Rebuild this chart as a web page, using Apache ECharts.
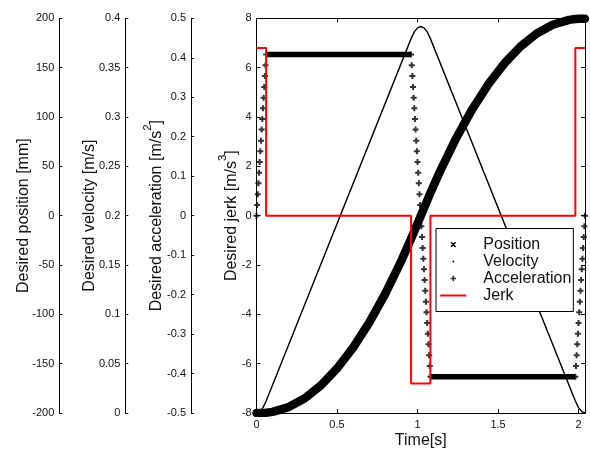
<!DOCTYPE html>
<html><head><meta charset="utf-8">
<script src="https://cdn.jsdelivr.net/npm/echarts@6/dist/echarts.min.js"></script>
<style>html,body{margin:0;padding:0;background:#fff}#c{width:590px;height:449px}</style>
</head><body><div id="c"></div>
<script>
// ---- data ----
const timeTicks = [0, 0.5, 1, 1.5, 2];
const seriesNames = ['Position', 'Velocity', 'Acceleration', 'Jerk'];

const posTime = [0, 0.03, 0.06, 0.1, 0.2, 0.3, 0.4, 0.5, 0.6, 0.7, 0.8, 0.9, 0.96, 1.02, 1.08, 1.14, 1.24, 1.34, 1.44, 1.54, 1.64, 1.74, 1.84, 1.94, 1.98, 2.01, 2.04];
const posMm   = [-200, -200, -199.8, -198.9, -194.0, -185.1, -172.0, -154.9, -133.7, -108.4, -79.0, -45.5, -23.5, -0.2, 23.0, 45.0, 78.5, 107.9, 133.2, 154.4, 171.5, 184.6, 193.5, 198.4, 199.3, 199.5, 199.5];

const velTime = [0, 0.02, 0.04, 0.06, 0.96, 0.98, 1.0, 1.02, 1.04, 1.06, 1.08, 1.98, 2.0, 2.02, 2.04];
const velMs   = [0, 0.0014, 0.0054, 0.0122, 0.3794, 0.3862, 0.3903, 0.3917, 0.3903, 0.3862, 0.3794, 0.0122, 0.0054, 0.0014, 0];

// acceleration samples visible as separate markers on the ramps
const accTime = [0, 0.004, 0.008, 0.012, 0.016, 0.02, 0.024, 0.028, 0.032, 0.036, 0.04, 0.044, 0.048, 0.052, 0.056, 0.06,
  0.96, 0.964, 0.968, 0.972, 0.976, 0.98, 0.984, 0.988, 0.992, 0.996, 1, 1.004, 1.008, 1.012, 1.016, 1.02, 1.024, 1.028, 1.032, 1.036, 1.04, 1.044, 1.048, 1.052, 1.056, 1.06, 1.064, 1.068, 1.072, 1.076, 1.08,
  1.98, 1.984, 1.988, 1.992, 1.996, 2, 2.004, 2.008, 2.012, 2.016, 2.02, 2.024, 2.028, 2.032, 2.036, 2.04];
const accVal = [0, 0.027, 0.054, 0.082, 0.109, 0.136, 0.163, 0.19, 0.218, 0.245, 0.272, 0.299, 0.326, 0.354, 0.381, 0.408,
  0.408, 0.381, 0.354, 0.326, 0.299, 0.272, 0.245, 0.218, 0.19, 0.163, 0.136, 0.109, 0.082, 0.054, 0.027, 0, -0.027, -0.054, -0.082, -0.109, -0.136, -0.163, -0.19, -0.218, -0.245, -0.272, -0.299, -0.326, -0.354, -0.381, -0.408,
  -0.408, -0.381, -0.354, -0.326, -0.299, -0.272, -0.245, -0.218, -0.19, -0.163, -0.136, -0.109, -0.082, -0.054, -0.027, 0];
// dense samples on the plateaus merge into solid bars
const accPlateauUpTime = [0.06, 0.96];
const accPlateauUpVal = [0.408, 0.408];
const accPlateauDownTime = [1.08, 1.98];
const accPlateauDownVal = [-0.408, -0.408];

const jerkTime = [0, 0.06, 0.06, 0.96, 0.96, 1.08, 1.08, 1.98, 1.98, 2.04];
const jerkVal  = [6.8, 6.8, 0, 0, -6.8, -6.8, 0, 0, 6.8, 6.8];

const posTicks = {min: -200, max: 200, interval: 50};
const velTicks = {min: 0, max: 0.4, interval: 0.05};
const accTicks = {min: -0.5, max: 0.5, interval: 0.1};
const jerkTicks = {min: -8, max: 8, interval: 2};

// ---- chart ----
const FONT = 'Liberation Sans, Arial, Helvetica, sans-serif';
const TXT = '#111';
const zip = (a, b) => a.map((v, i) => [v, b[i]]);

const rich = {
  n: {fontSize: 16, fontFamily: FONT, color: TXT, lineHeight: 16, verticalAlign: 'bottom'},
  s: {fontSize: 11.5, fontFamily: FONT, color: TXT, lineHeight: 11, padding: [0, 0, 11, 0], verticalAlign: 'bottom'}
};

function yAx(range, offset, name, gap, tickLen) {
  return Object.assign({
    type: 'value', position: 'left', offset: offset,
    axisLine: {show: true, onZero: false, lineStyle: {color: '#000', width: 1}},
    axisTick: {show: true, inside: true, length: tickLen, lineStyle: {color: '#000', width: 1}},
    axisLabel: {fontSize: 11, color: TXT, margin: 5, fontFamily: FONT},
    splitLine: {show: false},
    name: name, nameLocation: 'middle', nameGap: gap, nameRotate: 90,
    nameMoveOverlap: false,
    nameTextStyle: {rich: rich}
  }, range);
}

const BB = 'M0,0M26,8';
const iconX = 'path://' + BB + 'M10.5,1.5L11.5,1.5L15.5,5.5L15.5,6.5L14.5,6.5L10.5,2.5ZM15.5,1.5L15.5,2.5L11.5,6.5L10.5,6.5L10.5,5.5L14.5,1.5Z';
const iconDot = 'path://' + BB + 'M12.2,3.2H13.8V4.8H12.2Z';
const iconPlus = 'path://' + BB + 'M12.2,1.3H13.8V3.2H15.7V4.8H13.8V6.7H12.2V4.8H10.3V3.2H12.2Z';
const iconLine = 'path://' + BB + 'M0,3H26V5H0Z';
const plusSymbol = 'path://M2,0H4V2H6V4H4V6H2V4H0V2H2Z';

const option = {
  animation: false,
  backgroundColor: '#fff',
  textStyle: {fontFamily: FONT},
  grid: {left: 256.5, right: 5, top: 18.3, bottom: 36, containLabel: false, outerBoundsMode: 'none'},
  legend: {
    orient: 'vertical', left: 436, top: 228.5,
    padding: [7.5, 2, 7.5, 4.3], itemGap: 0, itemWidth: 26, itemHeight: 8,
    backgroundColor: '#fff', borderColor: '#000', borderWidth: 1, borderRadius: 0,
    selectedMode: false,
    textStyle: {fontSize: 16, lineHeight: 17, color: TXT, fontFamily: FONT, padding: [0, 0, 0, 12]},
    itemStyle: {borderWidth: 0},
    data: [
      {name: seriesNames[0], icon: iconX, itemStyle: {color: '#000', borderWidth: 0}},
      {name: seriesNames[1], icon: iconDot, itemStyle: {color: '#000', borderWidth: 0}},
      {name: seriesNames[2], icon: iconPlus, itemStyle: {color: '#000', borderWidth: 0}},
      {name: seriesNames[3], icon: iconLine, itemStyle: {color: '#ff0000', borderWidth: 0}}
    ]
  },
  xAxis: [
    {
      type: 'value', position: 'bottom', min: 0, max: 2.04, interval: 0.5,
      axisLine: {show: true, onZero: false, lineStyle: {color: '#000', width: 1}},
      axisTick: {show: true, inside: true, length: 4, lineStyle: {color: '#000'}},
      axisLabel: {fontSize: 11, color: TXT, margin: 6, fontFamily: FONT,
        formatter: v => timeTicks.some(t => Math.abs(t - v) < 1e-9) ? String(v) : ''},
      splitLine: {show: false},
      name: 'Time[s]', nameLocation: 'middle', nameGap: 20, nameMoveOverlap: false,
      nameTextStyle: {fontSize: 16, color: TXT, fontFamily: FONT}
    },
    {
      type: 'value', position: 'top', min: 0, max: 2.04, interval: 0.5,
      axisLine: {show: true, onZero: false, lineStyle: {color: '#000', width: 1}},
      axisTick: {show: true, inside: true, length: 4, lineStyle: {color: '#000'}},
      axisLabel: {show: false}, splitLine: {show: false}
    }
  ],
  yAxis: [
    yAx(posTicks, 197.2, '{n|Desired position [mm]}', 28, 3),
    yAx(velTicks, 131.2, '{n|Desired velocity [m/s]}', 28, 3),
    yAx(accTicks, 65.5, '{n|Desired acceleration [m/s}{s|2}{n|]}', 26, 3),
    yAx(jerkTicks, 0, '{n|Desired jerk [m/s}{s|3}{n|]}', 17, 4),
    Object.assign({
      type: 'value', position: 'right',
      axisLine: {show: true, onZero: false, lineStyle: {color: '#000', width: 1}},
      axisTick: {show: true, inside: true, length: 4, lineStyle: {color: '#000'}},
      axisLabel: {show: false}, splitLine: {show: false}
    }, jerkTicks)
  ],
  series: [
    {
      name: seriesNames[0], type: 'line', xAxisIndex: 0, yAxisIndex: 0,
      data: zip(posTime, posMm), showSymbol: false, symbol: 'none',
      lineStyle: {color: '#000', width: 8.5, cap: 'round', join: 'round'},
      itemStyle: {color: '#000'}
    },
    {
      name: seriesNames[1], type: 'line', xAxisIndex: 0, yAxisIndex: 1,
      data: zip(velTime, velMs), showSymbol: false, symbol: 'none',
      lineStyle: {color: '#000', width: 1.4},
      itemStyle: {color: '#000'}
    },
    {
      name: seriesNames[2], type: 'scatter', xAxisIndex: 0, yAxisIndex: 2,
      data: zip(accTime, accVal), symbol: plusSymbol, symbolSize: 6,
      itemStyle: {color: '#000'}
    },
    {
      name: seriesNames[2], type: 'line', xAxisIndex: 0, yAxisIndex: 2,
      data: zip(accPlateauUpTime, accPlateauUpVal), showSymbol: false, symbol: 'none',
      lineStyle: {color: '#000', width: 5.5, cap: 'butt'}, itemStyle: {color: '#000'}
    },
    {
      name: seriesNames[2], type: 'line', xAxisIndex: 0, yAxisIndex: 2,
      data: zip(accPlateauDownTime, accPlateauDownVal), showSymbol: false, symbol: 'none',
      lineStyle: {color: '#000', width: 5.5, cap: 'butt'}, itemStyle: {color: '#000'}
    },
    {
      name: seriesNames[3], type: 'line', xAxisIndex: 0, yAxisIndex: 3,
      data: zip(jerkTime, jerkVal), showSymbol: false, symbol: 'none',
      lineStyle: {color: '#ff0000', width: 2}, itemStyle: {color: '#ff0000'}
    }
  ]
};

const chart = echarts.init(document.getElementById('c'), null, {renderer: 'canvas'});
chart.setOption(option);
</script>
</body></html>
